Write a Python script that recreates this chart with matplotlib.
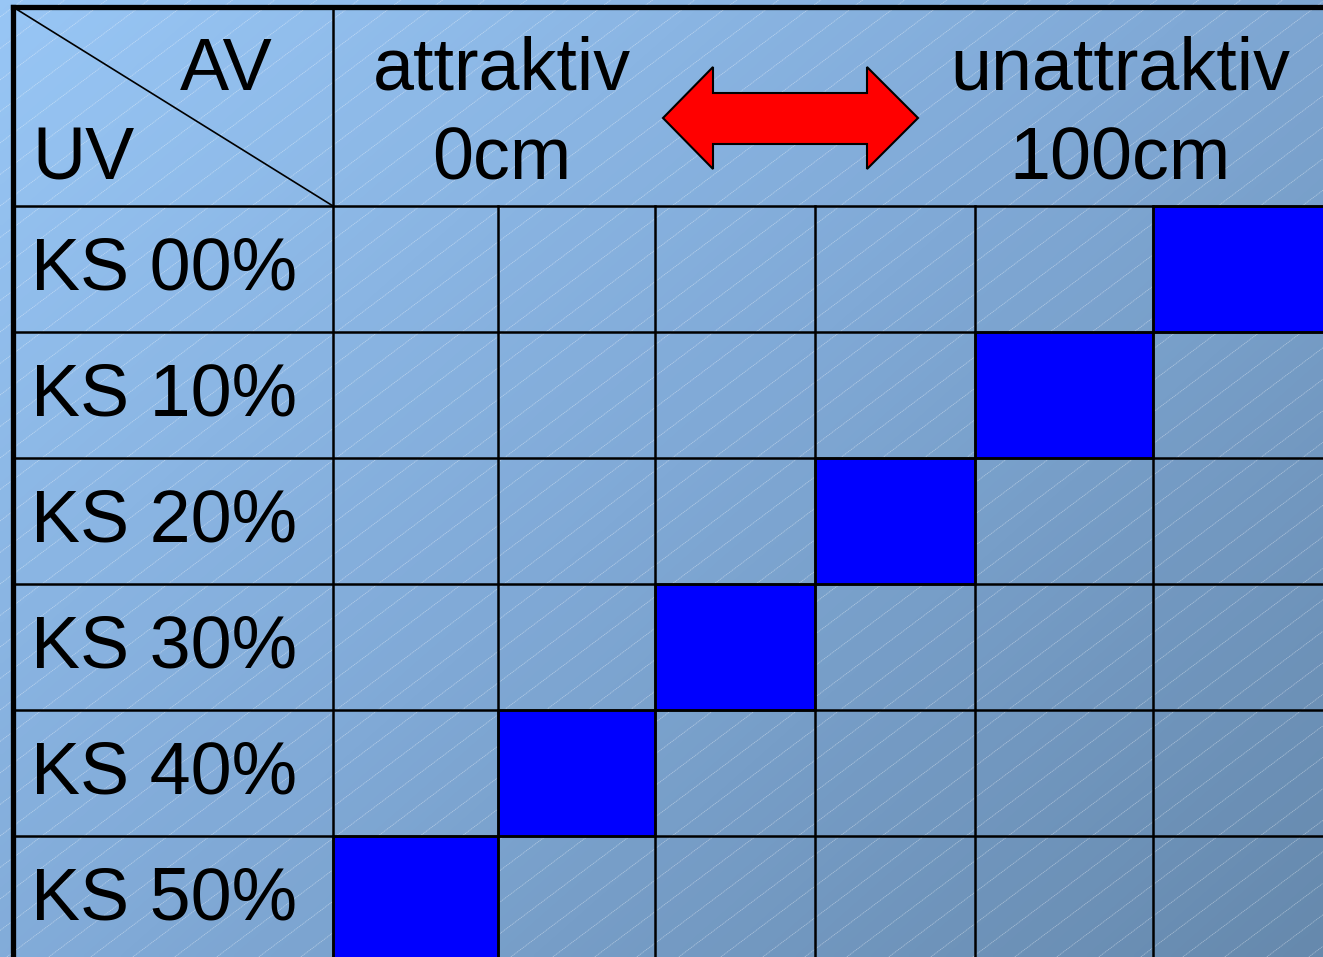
import numpy as np
import matplotlib
matplotlib.use("Agg")
import matplotlib.pyplot as plt
from matplotlib.patches import Rectangle, Polygon
from matplotlib.colors import LinearSegmentedColormap

# ---- data ----
row_labels = ["KS 00%", "KS 10%", "KS 20%", "KS 30%", "KS 40%", "KS 50%"]
chosen_column = [5, 4, 3, 2, 1, 0]   # highlighted column per row (0 = attraktiv ... 5 = unattraktiv)
corner_top = "AV"
corner_bottom = "UV"
left_header = ["attraktiv", "0cm"]
right_header = ["unattraktiv", "100cm"]

# ---- layout (pixel space) ----
W, H = 1323, 957
col_edges = [13, 333, 498, 655, 815, 975, 1153, 1340]
row_edges = [7, 206, 332, 458, 584, 710, 836, 970]

fig = plt.figure(figsize=(W / 100, H / 100), dpi=100)
ax = fig.add_axes([0, 0, 1, 1])
ax.set_xlim(0, W)
ax.set_ylim(H, 0)
ax.axis("off")

# background gradient
yy, xx = np.mgrid[0:H:4, 0:W:4]
t = (xx / W * 0.55 + yy / H * 0.45)
cmap = LinearSegmentedColormap.from_list("bg", ["#98c6f5", "#80a9d6", "#6689ad"])
ax.imshow(t, cmap=cmap, extent=[0, W, H, 0], aspect="auto", zorder=0, interpolation="bilinear")

# faint diagonal lines
k = 0.75
step = 31.5
c0 = 1340 % step
for c in np.arange(c0 - 10 * step, H + k * W + step, step):
    xs = np.array([0, W])
    ys = c - k * xs
    ax.plot(xs, ys, color="white", alpha=0.4, lw=0.6, ls=(0, (1.5, 0.8)), zorder=1)

# highlighted cells
for r, c in enumerate(chosen_column):
    x0, x1 = col_edges[c + 1], col_edges[c + 2]
    y0, y1 = row_edges[r + 1], row_edges[r + 2]
    ax.add_patch(Rectangle((x0, y0), x1 - x0, y1 - y0, facecolor="#0000ff",
                           edgecolor="black", lw=1.8, zorder=2))

# grid lines
lw_in = 1.8
for y in row_edges[1:-1]:
    ax.plot([col_edges[0], W + 10], [y, y], color="black", lw=lw_in, zorder=3)
for x in col_edges[2:-1]:
    ax.plot([x, x], [row_edges[1], H + 10], color="black", lw=lw_in, zorder=3)
ax.plot([col_edges[1], col_edges[1]], [row_edges[0], H + 10], color="black", lw=lw_in, zorder=3)
# outer border
ax.plot([col_edges[0], col_edges[0]], [row_edges[0], H + 10], color="black", lw=3.8, zorder=4,
        solid_capstyle="projecting")
ax.plot([col_edges[0], W + 10], [row_edges[0], row_edges[0]], color="black", lw=3.8, zorder=4,
        solid_capstyle="projecting")
# corner diagonal
ax.plot([col_edges[0], col_edges[1]], [row_edges[0], row_edges[1]], color="black", lw=1.2, zorder=3)

font = dict(family="Liberation Sans", color="black", zorder=5)
fs = 53
ax.text(226, 90, corner_top, ha="center", va="baseline", fontsize=fs, **font)
ax.text(32, 180, corner_bottom, ha="left", va="baseline", fontsize=fs, **font)
ax.text(502, 90, left_header[0], ha="center", va="baseline", fontsize=fs, **font)
ax.text(502, 180, left_header[1], ha="center", va="baseline", fontsize=fs, **font)
ax.text(1120, 90, right_header[0], ha="center", va="baseline", fontsize=fs, **font)
ax.text(1120, 180, right_header[1], ha="center", va="baseline", fontsize=fs, **font)

for r, lab in enumerate(row_labels):
    ax.text(31, row_edges[r + 1] + 83, lab, ha="left", va="baseline", fontsize=fs, **font)

# red double arrow
cy = 118
arrow = [(663, cy), (713, 67), (713, 93), (867, 93), (867, 67), (918, cy),
         (867, 169), (867, 144), (713, 144), (713, 169)]
ax.add_patch(Polygon(arrow, closed=True, facecolor="#ff0000", edgecolor="black", lw=1.5, zorder=5))

fig.savefig("out.png", dpi=100)
